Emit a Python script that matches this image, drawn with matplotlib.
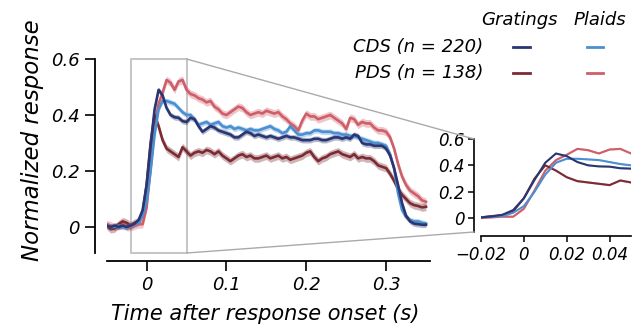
import matplotlib
matplotlib.use('Agg')
import matplotlib.pyplot as plt
from matplotlib.patches import Rectangle, ConnectionPatch
from matplotlib.lines import Line2D
import numpy as np

plt.rcParams['font.family'] = 'DejaVu Sans'
plt.rcParams['font.style'] = 'italic'

# time after response onset (s), 5 ms bins
t = np.round(np.arange(-0.05, 0.3501, 0.005), 3)

# mean normalized responses
cds_grat = [0.005, 0.0, 0.005, 0.0, 0.005, 0.0, 0.005, 0.012, 0.025, 0.06,
            0.15, 0.29, 0.42, 0.49, 0.47, 0.425, 0.40, 0.392, 0.39, 0.378, 0.375,
            0.39, 0.385, 0.36, 0.34, 0.35, 0.36, 0.355, 0.345, 0.34, 0.335,
            0.33, 0.32, 0.32, 0.33, 0.34, 0.335, 0.325, 0.33, 0.325, 0.32,
            0.325, 0.32, 0.315, 0.32, 0.325, 0.32, 0.32, 0.315, 0.31, 0.31,
            0.31, 0.315, 0.315, 0.31, 0.31, 0.315, 0.32, 0.32, 0.315, 0.32,
            0.315, 0.33, 0.325, 0.30, 0.295, 0.295, 0.29, 0.29, 0.29, 0.28,
            0.255, 0.21, 0.15, 0.085, 0.04, 0.02, 0.012, 0.01, 0.008, 0.008]
cds_plaid = [0.005, 0.0, 0.0, 0.005, 0.0, 0.0, 0.005, 0.01, 0.015, 0.04,
             0.09, 0.20, 0.33, 0.42, 0.45, 0.45, 0.445, 0.44, 0.425, 0.41, 0.40,
             0.40, 0.385, 0.365, 0.37, 0.375, 0.365, 0.37, 0.375, 0.36, 0.355,
             0.36, 0.35, 0.355, 0.35, 0.345, 0.35, 0.345, 0.345, 0.35, 0.355,
             0.36, 0.35, 0.345, 0.335, 0.34, 0.36, 0.345, 0.33, 0.33, 0.335,
             0.335, 0.345, 0.345, 0.34, 0.34, 0.34, 0.335, 0.335, 0.33, 0.33,
             0.325, 0.325, 0.32, 0.315, 0.31, 0.305, 0.30, 0.30, 0.295, 0.29,
             0.26, 0.21, 0.12, 0.06, 0.035, 0.025, 0.02, 0.02, 0.015, 0.012]
pds_grat = [0.005, -0.008, -0.005, 0.01, 0.02, 0.015, 0.005, 0.015, 0.02, 0.05,
            0.15, 0.30, 0.40, 0.36, 0.31, 0.28, 0.27, 0.26, 0.25, 0.285, 0.27,
            0.255, 0.265, 0.27, 0.265, 0.275, 0.27, 0.26, 0.27, 0.255, 0.245,
            0.235, 0.245, 0.255, 0.26, 0.25, 0.255, 0.245, 0.245, 0.25, 0.255,
            0.245, 0.25, 0.255, 0.245, 0.25, 0.24, 0.245, 0.25, 0.255, 0.265,
            0.27, 0.25, 0.235, 0.245, 0.25, 0.26, 0.265, 0.27, 0.26, 0.255,
            0.25, 0.26, 0.245, 0.25, 0.245, 0.245, 0.235, 0.22, 0.215, 0.21,
            0.19, 0.165, 0.135, 0.115, 0.10, 0.085, 0.078, 0.075, 0.07, 0.072]
pds_plaid = [0.01, 0.005, 0.0, 0.005, 0.01, 0.0, 0.0, 0.005, 0.01, 0.01,
             0.07, 0.21, 0.36, 0.44, 0.48, 0.525, 0.515, 0.49, 0.52, 0.525, 0.49,
             0.475, 0.47, 0.46, 0.455, 0.445, 0.45, 0.43, 0.42, 0.405, 0.40,
             0.41, 0.42, 0.43, 0.425, 0.41, 0.40, 0.405, 0.41, 0.405, 0.415,
             0.41, 0.405, 0.41, 0.395, 0.385, 0.37, 0.36, 0.345, 0.38, 0.405,
             0.395, 0.395, 0.385, 0.39, 0.395, 0.40, 0.39, 0.38, 0.37, 0.35,
             0.39, 0.385, 0.365, 0.375, 0.37, 0.37, 0.355, 0.345, 0.345, 0.34,
             0.32, 0.28, 0.225, 0.18, 0.15, 0.13, 0.12, 0.11, 0.095, 0.09]

# standard error of the mean for each population
sem_cds = 0.01
sem_pds = 0.014

c_cds_grat = '#2a3672'
c_cds_plaid = '#4a8fd2'
c_pds_grat = '#7b2b33'
c_pds_plaid = '#cf5e68'

series = [(pds_plaid, sem_pds, c_pds_plaid),
          (pds_grat, sem_pds, c_pds_grat),
          (cds_plaid, sem_cds, c_cds_plaid),
          (cds_grat, sem_cds, c_cds_grat)]

fig = plt.figure(figsize=(6.44, 3.29), dpi=100)
W, H = 644.0, 329.0

ax = fig.add_axes([106.7/W, 1-253/H, 323.3/W, 194/H])
for y, s, c in series:
    y = np.array(y)
    ax.fill_between(t, y-s, y+s, color=c, alpha=0.35, lw=0)
    ax.plot(t, y, color=c, lw=1.9)
ax.set_xlim(-0.05, 0.355)
ax.set_ylim(-0.093, 0.6)
ax.set_xticks([0, 0.1, 0.2, 0.3])
ax.set_xticklabels(['0', '0.1', '0.2', '0.3'])
ax.set_yticks([0, 0.2, 0.4, 0.6])
ax.set_yticklabels(['0', '0.2', '0.4', '0.6'])
for side in ['top', 'right']:
    ax.spines[side].set_visible(False)
ax.spines['left'].set_position(('outward', 8.6))
ax.spines['bottom'].set_position(('outward', 5.8))
for side in ['left', 'bottom']:
    ax.spines[side].set_linewidth(1.3)
ax.tick_params(axis='both', labelsize=13, width=1.2, length=7, pad=4)

# zoom window
y0 = ax.get_ylim()[0]
ax.add_patch(Rectangle((-0.02, y0), 0.07, 0.6 - y0, fill=False,
                       edgecolor='#bbbbbb', lw=1.2, clip_on=False, zorder=0.5))

# inset of the onset
ins = fig.add_axes([481/W, 1-232/H, 150/W, 93/H])
for y, s, c in series:
    y = np.array(y)
    ins.fill_between(t, y-s*0.6, y+s*0.6, color=c, alpha=0.3, lw=0)
    ins.plot(t, y, color=c, lw=1.5)
ins.set_xlim(-0.02, 0.05)
ins.set_ylim(-0.106, 0.6)
ins.set_xticks([-0.02, 0, 0.02, 0.04])
ins.set_xticklabels(['\u22120.02', '0', '0.02', '0.04'])
ins.set_yticks([0, 0.2, 0.4, 0.6])
ins.set_yticklabels(['0', '0.2', '0.4', '0.6'])
for side in ['top', 'right']:
    ins.spines[side].set_visible(False)
ins.spines['left'].set_position(('outward', 5))
ins.spines['bottom'].set_position(('outward', 3))
for side in ['left', 'bottom']:
    ins.spines[side].set_linewidth(1.2)
ins.tick_params(axis='both', labelsize=12, width=1.1, length=4, pad=3)

# lines joining the window to the inset
spine_tr = ins.spines['left'].get_spine_transform()
for ya, yb in [(0.6, 0.6), (y0, ins.get_ylim()[0])]:
    fig.add_artist(ConnectionPatch(xyA=(0.05, ya), coordsA=ax.transData,
                                   xyB=(0, yb), coordsB=spine_tr,
                                   color='#aaaaaa', lw=1.0))

fig.text(265/W, 1-314/H, 'Time after response onset (s)', fontsize=15,
         ha='center', va='center')
fig.text(33/W, 1-140/H, 'Normalized response', fontsize=16.5, rotation=90,
         ha='center', va='center')

# legend
fig.text(519/W, 1-20/H, 'Gratings', fontsize=13, ha='center', va='center')
fig.text(600/W, 1-20/H, 'Plaids', fontsize=13, ha='center', va='center')
rows = [('CDS (n = 220)', 47, c_cds_grat, c_cds_plaid),
        ('PDS (n = 138)', 73.5, c_pds_grat, c_pds_plaid)]
for label, ypx, cg, cp in rows:
    fig.text(483/W, 1-ypx/H, label, fontsize=13, ha='right', va='center')
    for x0, x1, c in [(513, 530, cg), (587, 603, cp)]:
        fig.add_artist(Line2D([x0/W, x1/W], [1-ypx/H, 1-ypx/H], color=c,
                              lw=2.0, transform=fig.transFigure))

fig.savefig('out.png', dpi=100)
